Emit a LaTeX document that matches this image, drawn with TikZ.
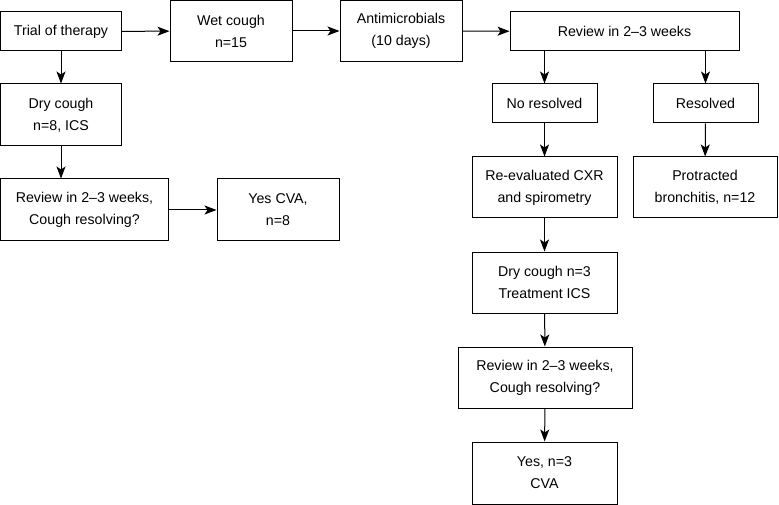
\documentclass[tikz,border=0pt]{standalone}
\usepackage{fontspec}
\setmainfont{Liberation Sans}
\usetikzlibrary{arrows.meta}
\tikzset{
  box/.style={draw, line width=1pt, align=center, inner sep=0pt,
    font=\fontsize{14.2}{22}\selectfont},
  flow/.style={line width=1pt, -{Stealth[length=12pt,width=9pt,inset=3pt]}}
}
\begin{document}
\begin{tikzpicture}[x=1pt,y=-1pt]
      \useasboundingbox (0,0) rectangle (779,505);
      \draw
        (61,31.5) node[box,minimum width=121pt,minimum height=39pt] (trial){Trial of therapy}
        (231,31) node[box,minimum width=122pt,minimum height=61pt] (wet){Wet cough\\n=15}
        (401,31) node[box,minimum width=122pt,minimum height=61pt] (anti){Antimicrobials\\(10 days)}
        (624.5,31.5) node[box,minimum width=229pt,minimum height=39pt] (rev1){Review in 2--3 weeks}
        (61,115) node[box,minimum width=121pt,minimum height=62pt] (dry1){Dry cough\\n=8, ICS}
        (84.5,210) node[box,minimum width=168pt,minimum height=62pt] (rev2){Review in 2--3 weeks,\\Cough resolving?}
        (278,210) node[box,minimum width=122pt,minimum height=62pt] (cva1){Yes CVA,\\n=8}
        (544.5,103.5) node[box,minimum width=105pt,minimum height=39pt] (nores){No resolved}
        (705.5,103.5) node[box,minimum width=105pt,minimum height=39pt] (res){Resolved}
        (544.5,187.5) node[box,minimum width=145pt,minimum height=61pt] (reeval){Re-evaluated CXR\\and spirometry}
        (705,187.5) node[box,minimum width=144pt,minimum height=61pt] (prot){Protracted\\bronchitis, n=12}
        (544.5,282.5) node[box,minimum width=145pt,minimum height=61pt] (dry2){Dry cough n=3\\Treatment ICS}
        (545,377.5) node[box,minimum width=174pt,minimum height=61pt] (rev3){Review in 2--3 weeks,\\Cough resolving?}
        (544.5,473) node[box,minimum width=145pt,minimum height=62pt] (cva3){Yes, n=3\\CVA};
      \begin{scope}[flow]
        \draw (trial) to (wet);
        \draw (wet) to (anti);
        \draw (anti) to (rev1);
        \draw (trial) to (dry1);
        \draw (dry1.south) to (dry1.south |- rev2.north);
        \draw (rev2) to (cva1);
        \draw (nores |- rev1.south) to (nores);
        \draw (res |- rev1.south) to (res);
        \draw (nores) to (reeval);
        \draw (res) to (prot);
        \draw (reeval) to (dry2);
        \draw (dry2) to (rev3);
        \draw (rev3) to (cva3);
      \end{scope}
    \end{tikzpicture}
\end{document}
